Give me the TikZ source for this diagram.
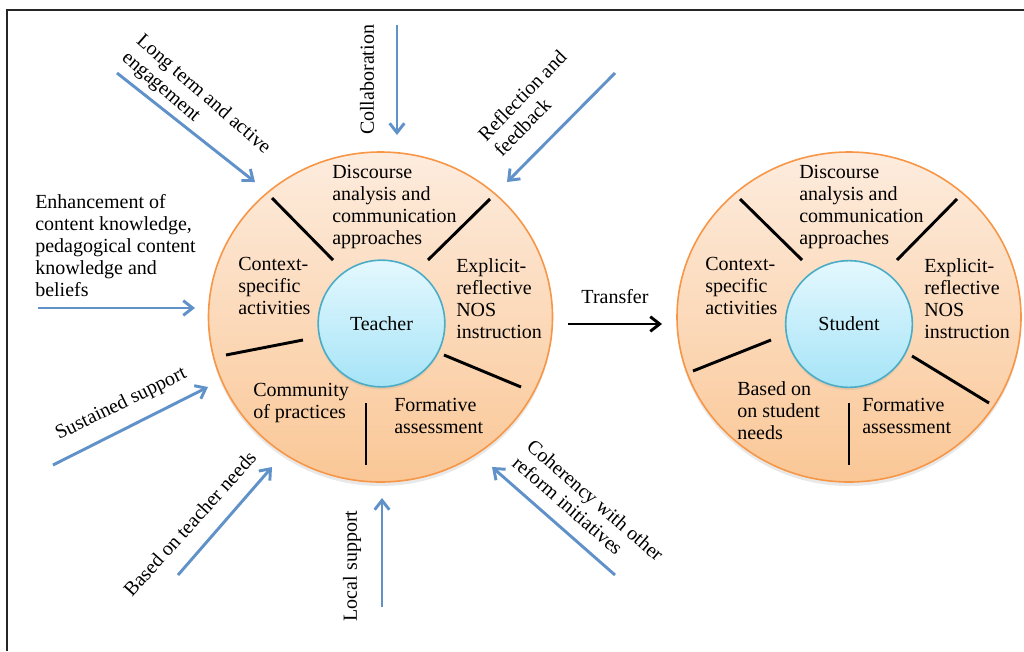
\documentclass[tikz,border=0pt]{standalone}
\usepackage{fontspec}
\setmainfont{Liberation Serif}
\usetikzlibrary{arrows.meta,shapes.geometric,shadows}
\definecolor{ringtop}{RGB}{253,236,222}
\definecolor{ringbot}{RGB}{250,199,150}
\definecolor{ringline}{RGB}{247,150,70}
\definecolor{coretop}{RGB}{228,248,254}
\definecolor{corebot}{RGB}{166,228,247}
\definecolor{coreline}{RGB}{75,172,198}
\definecolor{feed}{RGB}{96,146,201}
\tikzset{
  txt/.style={font=\fontsize{15}{16.5}\selectfont,inner sep=0pt,align=left},
  ring/.style={ellipse,draw=ringline,line width=1.2pt,top color=ringtop,bottom color=ringbot,
    minimum width=258pt,minimum height=247.5pt,
    drop shadow={opacity=0.18,shadow xshift=0pt,shadow yshift=-3pt}},
  core/.style={circle,draw=coreline,line width=1.2pt,top color=coretop,bottom color=corebot,
    minimum size=95pt,inner sep=0pt,font=\fontsize{15}{16.5}\selectfont,
    drop shadow={opacity=0.15,shadow xshift=0pt,shadow yshift=-2pt}},
  spoke/.style={line width=2.2pt},
  feedarrow/.style={draw=feed,line width=2.2pt,-{Straight Barb[length=7pt,width=11pt]}},
  transarrow/.style={line width=2.2pt,-{Straight Barb[length=7pt,width=11pt]}}
}
\begin{document}
\begin{tikzpicture}[x=0.75pt,y=-0.75pt]
  \useasboundingbox (0,0) rectangle (1024,651);
  % frame
  \draw[line width=1.6pt,black!85] (7,651) -- (7,10) -- (1024,10);

  % teacher (base west = baseline of the last line)
  \node[ring] (tring) at (380.5,317) {};
  \node[core] (tcore) at (381.5,323.5) {Teacher};
  \draw[spoke] (272,198) -- (333,260);
  \draw[spoke] (490,199) -- (428,260);
  \draw[spoke] (226,355) -- (303,340);
  \draw[spoke] (444,355) -- (521,387);
  \draw[spoke] (366,403) -- (366,465);
  \node[txt,anchor=base west] (tdisc) at (332,244) {Discourse\\analysis and\\communication\\approaches};
  \node[txt,anchor=base west] (tctx) at (238,314) {Context-\\specific\\activities};
  \node[txt,anchor=base west] (texp) at (456,338) {Explicit-\\reflective\\NOS\\instruction};
  \node[txt,anchor=base west] (tcomm) at (253,418) {Community\\of practices};
  \node[txt,anchor=base west] (tform) at (394,433) {Formative\\assessment};

  % student
  \node[ring] (sring) at (849,317) {};
  \node[core] (score) at (849,324) {Student};
  \draw[spoke] (740,199) -- (802,260);
  \draw[spoke] (957,199) -- (897,260);
  \draw[spoke] (693,371) -- (771,340);
  \draw[spoke] (912,356) -- (989,403);
  \draw[spoke] (849,403) -- (849,465);
  \node[txt,anchor=base west] (sdisc) at (799,244) {Discourse\\analysis and\\communication\\approaches};
  \node[txt,anchor=base west] (sctx) at (705,314) {Context-\\specific\\activities};
  \node[txt,anchor=base west] (sexp) at (924,338) {Explicit-\\reflective\\NOS\\instruction};
  \node[txt,anchor=base west] (sneeds) at (737,439) {Based on\\on student\\needs};
  \node[txt,anchor=base west] (sform) at (862,433) {Formative\\assessment};

  % transfer
  \coordinate (tr-s) at (568,324);
  \coordinate (tr-e) at (662,324);
  \draw[transarrow] (tr-s) -- (tr-e);
  \node[txt] (transfer) at (615,297) {Transfer};

  % features of the teacher programme
  \coordinate (lterm-s) at (117,73);   \coordinate (lterm-e) at (255,182);
  \coordinate (enh-s) at (38,308);     \coordinate (enh-e) at (195,308);
  \coordinate (collab-s) at (397,25);  \coordinate (collab-e) at (397,135);
  \coordinate (refl-s) at (615,73);    \coordinate (refl-e) at (507,182);
  \coordinate (sust-s) at (53,465);    \coordinate (sust-e) at (208,387);
  \coordinate (tneeds-s) at (178,575); \coordinate (tneeds-e) at (272,467);
  \coordinate (local-s) at (382,607);  \coordinate (local-e) at (382,498);
  \coordinate (coher-s) at (615,575);  \coordinate (coher-e) at (492,467);
  \foreach \f in {lterm,enh,collab,refl,sust,tneeds,local,coher}
    \draw[feedarrow] (\f-s) -- (\f-e);

  \node[txt,anchor=base west,rotate=-41] (lterm) at (121,59) {Long term and active\\engagement};
  \node[txt,anchor=base west] (enh) at (35,296) {Enhancement of\\content knowledge,\\pedagogical content\\knowledge and\\beliefs};
  \node[txt,rotate=90] (collab) at (367,80) {Collaboration};
  \node[txt,anchor=base west,rotate=46] (refl) at (502,158) {Reflection and\\feedback};
  \node[txt,anchor=base west,rotate=26] (sust) at (59,440) {Sustained support};
  \node[txt,anchor=base west,rotate=48] (tneeds) at (132,598) {Based on teacher needs};
  \node[txt,rotate=90] (local) at (352,566) {Local support};
  \node[txt,anchor=base west,rotate=-41] (coher) at (511,465) {Coherency with other\\reform initiatives};
\end{tikzpicture}
\end{document}
